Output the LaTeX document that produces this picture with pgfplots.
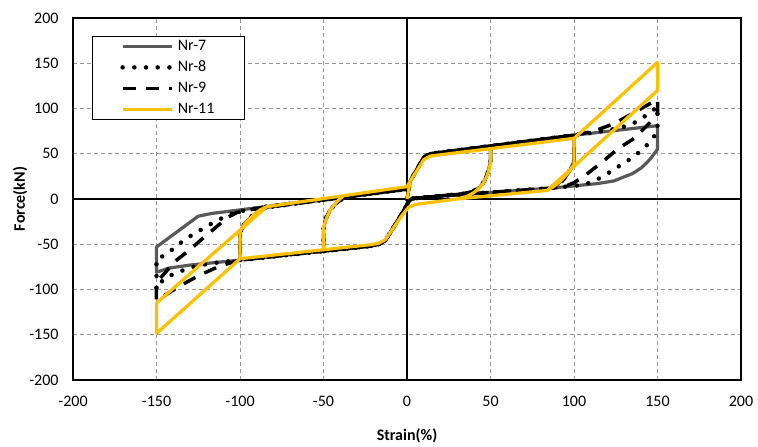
\documentclass[border=0pt]{standalone}
\usepackage{fontspec}
\setmainfont{Carlito}
\usepackage{pgfplots}
\pgfplotsset{compat=1.18}
\definecolor{nrgray}{RGB}{89,89,89}
\definecolor{nryellow}{RGB}{255,192,0}

\begin{document}
\begin{tikzpicture}
\begin{axis}[
  at={(0,0)}, anchor=south west,
  scale only axis, width=668bp, height=362bp,
  xmin=-200, xmax=200, ymin=-200, ymax=200,
  xtick={-200,-150,...,200}, ytick={-200,-150,...,200},
  major tick length=0pt,
  grid=major,
  major grid style={draw=gray!80, line width=0.8bp, dash pattern=on 4bp off 3bp},
  axis line style={line width=2bp},
  /pgf/number format/assume math mode=true,
  ticklabel style={font=\fontsize{16bp}{19bp}\selectfont},
  xticklabel style={yshift=-13bp},
  yticklabel style={xshift=-11bp},
  xlabel={Strain(\%)},
  ylabel={Force(kN)},
  every axis x label/.style={at={(rel axis cs:0.5,-0.1547)}, anchor=center,
    font=\fontsize{16bp}{19bp}\selectfont\bfseries},
  every axis y label/.style={at={(rel axis cs:-0.0793,0.5)}, rotate=90, anchor=center,
    font=\fontsize{16bp}{19bp}\selectfont\bfseries},
  legend style={at={(rel axis cs:0.0284,0.9503)}, anchor=north west,
    draw=black, line width=0.8bp, fill=white,
    inner xsep=28bp, inner ysep=1bp, column sep=2bp, row sep=3bp,
    nodes={inner sep=2bp, text height=11bp, text depth=3bp},
    font=\fontsize{16bp}{19bp}\selectfont},
  legend cell align=left,
  legend image code/.code={\draw[#1] (0bp,0bp) -- (49bp,0bp);},
]
% zero lines
\draw[line width=1.8bp] (axis cs:0,-200) -- (axis cs:0,200);
\draw[line width=1.8bp] (axis cs:-200,0) -- (axis cs:200,0);

% Nr-7
\addplot[nrgray, line width=3.2bp, line join=round] coordinates {
 (0,0) (2,20) (10,46) (14,50) (50,58.5)
 (50,42) (48.5,30) (46.5,20) (43.5,13) (39,8) (34,6) (20,3.3) (3,0.5) (1,-3) (-3,-16) (-13,-46) (-17,-50) (-22,-52) (-50,-57.6)
 (-50,-33) (-48.5,-21) (-46,-12) (-42,-4) (-37,2.5) (0,11) (2,20) (10,46) (14,50) (100,70.5)
 (100,42) (97.5,32) (94,22) (90,16) (86,12) (20,3.3) (3,0.5) (1,-3) (-3,-16) (-13,-46) (-17,-50) (-22,-52) (-100,-67.5)
 (-100,-38) (-97.5,-28) (-93,-19) (-88,-13) (-84,-9.3) (0,11) (2,20) (10,46) (14,50) (100,70.5)
 (150,81) (150,55) (148,50) (146,45) (143,39) (140,34) (135,28) (130,24.5) (124,20) (114,17) (86,12) (20,3.3) (3,0.5) (1,-3) (-3,-16) (-13,-46) (-17,-50) (-22,-52) (-100,-67.5)
 (-130,-73) (-143,-76.5) (-150,-81) (-150,-53) (-125,-19) (-117,-16) (-100,-12) (0,11)
};
\addlegendentry{Nr-7}

% Nr-8
\addplot[black, line width=4.5bp, line cap=round, line join=round, dash pattern=on 0bp off 11.7bp] coordinates {
 (0,0) (2,20) (10,46) (14,50) (50,58.5)
 (50,42) (48.5,30) (46.5,20) (43.5,13) (39,8) (34,6) (20,3.3) (3,0.5) (1,-3) (-3,-16) (-13,-46) (-17,-50) (-22,-52) (-50,-57.6)
 (-50,-33) (-48.5,-21) (-46,-12) (-42,-4) (-37,2.5) (0,11) (2,20) (10,46) (14,50) (100,70.5)
 (100,42) (97.5,32) (94,22) (90,16) (86,12) (20,3.3) (3,0.5) (1,-3) (-3,-16) (-13,-46) (-17,-50) (-22,-52) (-100,-67.5)
 (-100,-38) (-97.5,-28) (-93,-19) (-88,-13) (-84,-9.3) (0,11) (2,20) (10,46) (14,50) (100,70.5)
 (110,73) (120,76) (127.5,78.5) (135,83) (140,88.5) (145,94.5) (150,102) (150,74) (147,67) (145,62) (140.5,54) (134.5,45) (129,39) (124.5,33) (118.5,26.5) (112,19.5) (105,15.5)
 (86,12) (20,3.3) (3,0.5) (1,-3) (-3,-16) (-13,-46) (-17,-50) (-22,-52) (-100,-67.5)
 (-117,-71) (-126,-74) (-133,-78) (-140,-83) (-146,-89) (-150,-100) (-150,-66) (-147,-64) (-142,-58) (-136,-49) (-129,-40) (-122,-32.4) (-115,-25) (-107,-17.7) (-101,-14) (-84,-8.3) (0,11)
};
\addlegendentry{Nr-8}

% Nr-9
\addplot[black, line width=3.5bp, line join=round, dash pattern=on 13bp off 10bp] coordinates {
 (0,0) (2,20) (10,46) (14,50) (50,58.5)
 (50,42) (48.5,30) (46.5,20) (43.5,13) (39,8) (34,6) (20,3.3) (3,0.5) (1,-3) (-3,-16) (-13,-46) (-17,-50) (-22,-52) (-50,-57.6)
 (-50,-33) (-48.5,-21) (-46,-12) (-42,-4) (-37,2.5) (0,11) (2,20) (10,46) (14,50) (100,70.5)
 (100,42) (97.5,32) (94,22) (90,16) (86,12) (20,3.3) (3,0.5) (1,-3) (-3,-16) (-13,-46) (-17,-50) (-22,-52) (-100,-67.5)
 (-100,-38) (-97.5,-28) (-93,-19) (-88,-13) (-84,-9.3) (0,11) (2,20) (10,46) (14,50) (100,70.5)
 (112,75) (124.5,83.6) (135,94.5) (150,110) (150,95) (145.5,84.5) (136,67) (126,55) (117,41) (108,28) (100,18) (94,13.5)
 (86,12) (20,3.3) (3,0.5) (1,-3) (-3,-16) (-13,-46) (-17,-50) (-22,-52) (-100,-67.5)
 (-112,-74) (-124,-84) (-135,-95) (-150,-112) (-150,-92) (-147,-86) (-139,-69) (-130,-56) (-122,-43) (-113,-29) (-107,-20) (-102,-15) (-84,-8.3) (0,11)
};
\addlegendentry{Nr-9}

% Nr-11
\addplot[nryellow, line width=3.2bp, line join=round] coordinates {
 (0,0) (2,20) (10,43.5) (14,47.5) (50,55.5)
 (50,40) (49,32) (47.7,24.7) (45.5,17) (43.5,12.5) (40,7) (36,3) (30,0) (5,-6) (1,-9) (-3,-18) (-13,-45) (-17,-49) (-22,-50.5) (-50,-56)
 (-50,-31) (-48,-20) (-46,-12) (-42,-3) (-38,3.6) (0,13.7) (2,20) (10,43.5) (14,47.5) (100,67)
 (100,38) (97,30) (92,20) (88,14) (84,9.5) (30,0) (5,-6) (1,-9) (-3,-18) (-13,-45) (-17,-49) (-22,-50.5) (-100,-66)
 (-100,-36) (-97,-27) (-92,-18) (-88,-12) (-84,-8.5) (0,13.7) (2,20) (10,43.5) (14,47.5) (100,67)
 (150,151) (150,120) (84,9.5) (30,0) (5,-6) (1,-9) (-3,-18) (-13,-45) (-17,-49) (-22,-50.5) (-100,-66)
 (-150,-148.5) (-150,-115) (-84,-8.5) (0,13.7)
};
\addlegendentry{Nr-11}
\end{axis}
\path (-73bp,-65bp) rectangle (685bp,380bp);
\end{tikzpicture}
\end{document}
